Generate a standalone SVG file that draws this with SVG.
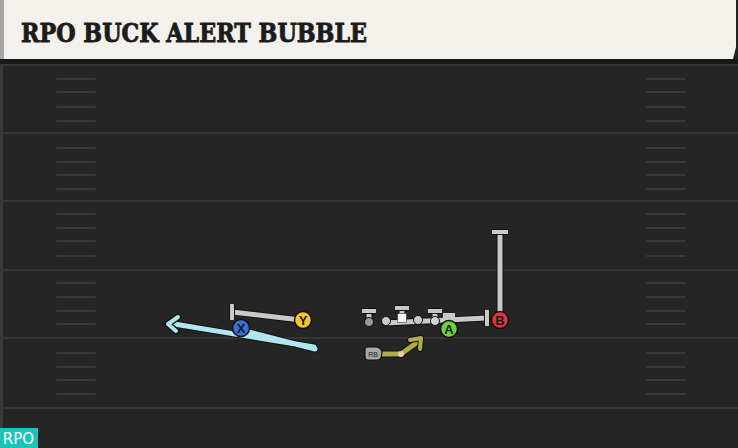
<svg xmlns="http://www.w3.org/2000/svg" width="738" height="448" viewBox="0 0 738 448">
<defs>
<style>
.yl{stroke:#363636;stroke-width:2}
.hm{stroke:#393939;stroke-width:2;stroke-linecap:round}
.rt-o{stroke:#111;stroke-width:7;fill:none;stroke-linecap:round;stroke-linejoin:round}
.rt{stroke:#c9c9c9;stroke-width:5;fill:none;stroke-linecap:butt;stroke-linejoin:round}
.bar{stroke:#c9c9c9;stroke-width:4;fill:none}
.bar-o{stroke:#111;stroke-width:6;fill:none}
.pl{stroke:#111;stroke-width:1.5}
.lt{font-family:"Liberation Sans",Arial,sans-serif;font-size:13px;font-weight:bold;fill:#1a1a1a;text-anchor:middle}
</style>
</defs>
<rect x="0" y="0" width="738" height="448" fill="#222222"/>
<rect x="0" y="59" width="738" height="389" fill="#252525"/>
<rect x="0" y="59" width="738" height="5" fill="#171717"/>
<rect x="0" y="64" width="3" height="384" fill="#3a3a3a"/>
<g id="field">
<line class="yl" x1="0" y1="65" x2="738" y2="65"/>
<line class="yl" x1="0" y1="133" x2="738" y2="133"/>
<line class="yl" x1="0" y1="201" x2="738" y2="201"/>
<line class="yl" x1="0" y1="270" x2="738" y2="270"/>
<line class="yl" x1="0" y1="338" x2="738" y2="338"/>
<line class="yl" x1="0" y1="408" x2="738" y2="408"/>
<g id="hash-left">
<line class="hm" x1="57" y1="79" x2="95" y2="79"/><line class="hm" x1="57" y1="92" x2="95" y2="92"/><line class="hm" x1="57" y1="107" x2="95" y2="107"/><line class="hm" x1="57" y1="121" x2="95" y2="121"/>
<line class="hm" x1="57" y1="148" x2="95" y2="148"/><line class="hm" x1="57" y1="162" x2="95" y2="162"/><line class="hm" x1="57" y1="175" x2="95" y2="175"/><line class="hm" x1="57" y1="189" x2="95" y2="189"/>
<line class="hm" x1="57" y1="214" x2="95" y2="214"/><line class="hm" x1="57" y1="228" x2="95" y2="228"/><line class="hm" x1="57" y1="241" x2="95" y2="241"/><line class="hm" x1="57" y1="256" x2="95" y2="256"/>
<line class="hm" x1="57" y1="283" x2="95" y2="283"/><line class="hm" x1="57" y1="297" x2="95" y2="297"/><line class="hm" x1="57" y1="311" x2="95" y2="311"/><line class="hm" x1="57" y1="324" x2="95" y2="324"/>
<line class="hm" x1="57" y1="353" x2="95" y2="353"/><line class="hm" x1="57" y1="367" x2="95" y2="367"/><line class="hm" x1="57" y1="380" x2="95" y2="380"/><line class="hm" x1="57" y1="394" x2="95" y2="394"/>
</g>
<g id="hash-right">
<line class="hm" x1="647" y1="79" x2="685" y2="79"/><line class="hm" x1="647" y1="92" x2="685" y2="92"/><line class="hm" x1="647" y1="107" x2="685" y2="107"/><line class="hm" x1="647" y1="121" x2="685" y2="121"/>
<line class="hm" x1="647" y1="148" x2="685" y2="148"/><line class="hm" x1="647" y1="162" x2="685" y2="162"/><line class="hm" x1="647" y1="175" x2="685" y2="175"/><line class="hm" x1="647" y1="189" x2="685" y2="189"/>
<line class="hm" x1="647" y1="214" x2="685" y2="214"/><line class="hm" x1="647" y1="228" x2="685" y2="228"/><line class="hm" x1="647" y1="241" x2="685" y2="241"/><line class="hm" x1="647" y1="256" x2="685" y2="256"/>
<line class="hm" x1="647" y1="283" x2="685" y2="283"/><line class="hm" x1="647" y1="297" x2="685" y2="297"/><line class="hm" x1="647" y1="311" x2="685" y2="311"/><line class="hm" x1="647" y1="324" x2="685" y2="324"/>
<line class="hm" x1="647" y1="353" x2="685" y2="353"/><line class="hm" x1="647" y1="367" x2="685" y2="367"/><line class="hm" x1="647" y1="380" x2="685" y2="380"/><line class="hm" x1="647" y1="394" x2="685" y2="394"/>
</g>
</g>
<g id="title">
<polygon points="0,0 736,0 736,47 733,59 0,59" fill="#f4f1ec"/>
<rect x="0" y="0" width="4" height="59" fill="#a5a5a5"/>
<text x="21" y="42" font-family="'DejaVu Serif','Liberation Serif',serif" font-weight="bold" font-size="26" textLength="346" lengthAdjust="spacingAndGlyphs" fill="#1c1c1c" stroke="#1c1c1c" stroke-width="0.9">RPO BUCK ALERT BUBBLE</text>
</g>
<g id="connectors">
<line class="rt-o" x1="301" y1="320" x2="232" y2="312"/>
<line class="rt" x1="301" y1="320" x2="232" y2="312"/>
<line class="bar-o" x1="232" y1="304" x2="232" y2="320"/>
<line class="bar" x1="232" y1="304" x2="232" y2="320"/>
<line class="rt-o" x1="500" y1="318" x2="500" y2="232"/>
<line class="rt" x1="500" y1="318" x2="500" y2="232"/>
<line class="bar-o" x1="492" y1="232" x2="508" y2="232"/>
<line class="bar" x1="492" y1="232" x2="508" y2="232"/>
<line class="rt-o" x1="369" y1="322" x2="369" y2="311"/><line class="rt" x1="369" y1="322" x2="369" y2="311"/>
<line class="bar-o" x1="362" y1="311" x2="376" y2="311"/><line class="bar" x1="362" y1="311" x2="376" y2="311"/>
<line class="rt-o" x1="402" y1="318" x2="402" y2="308"/><line class="rt" x1="402" y1="318" x2="402" y2="308"/>
<line class="bar-o" x1="395" y1="308" x2="409" y2="308"/><line class="bar" x1="395" y1="308" x2="409" y2="308"/>
<line class="rt-o" x1="435" y1="321" x2="435" y2="311"/><line class="rt" x1="435" y1="321" x2="435" y2="311"/>
<line class="bar-o" x1="428" y1="311" x2="442" y2="311"/><line class="bar" x1="428" y1="311" x2="442" y2="311"/>
<line class="rt-o" x1="385" y1="323" x2="487" y2="318"/>
<line class="rt" x1="385" y1="323" x2="487" y2="318"/>
<line class="bar-o" x1="487" y1="310" x2="487" y2="326"/>
<line class="bar" x1="487" y1="310" x2="487" y2="326"/>
<rect x="443" y="313" width="12" height="6" fill="#c9c9c9"/>
<path d="M241,330 L315,349 M314,347 L174,324" stroke="#111" stroke-width="7" fill="none" stroke-linecap="round"/>
<path d="M241,330 L315,349 M314,347 L174,324" stroke="#aee6f2" stroke-width="5" fill="none" stroke-linecap="round"/>
<path d="M178,317 L168,324 L176,331" stroke="#111" stroke-width="6.5" fill="none" stroke-linecap="round" stroke-linejoin="round"/>
<path d="M178,317 L168,324 L176,331" stroke="#aee6f2" stroke-width="4" fill="none" stroke-linecap="round" stroke-linejoin="round"/>
<path d="M381,354 L401,354 L419,341" stroke="#111" stroke-width="7" fill="none" stroke-linejoin="round"/>
<path d="M381,354 L401,354 L419,341" stroke="#b3ab4a" stroke-width="5" fill="none" stroke-linejoin="round"/>
<path d="M410,340 L421,338 L420,349" stroke="#111" stroke-width="6" fill="none" stroke-linejoin="round" stroke-linecap="round"/>
<path d="M410,340 L421,338 L420,349" stroke="#b3ab4a" stroke-width="4" fill="none" stroke-linejoin="round" stroke-linecap="round"/>
<circle cx="401" cy="354" r="3" fill="#d8d4a8"/>
</g>
<g id="ol">
<circle cx="369" cy="322" r="4.5" fill="#9a9a9a" stroke="#111" stroke-width="1"/>
<circle cx="386" cy="321" r="4.5" fill="#c9c9c9" stroke="#111" stroke-width="1"/>
<rect x="397.5" y="313.5" width="9" height="9" fill="#f4f4f4" stroke="#111" stroke-width="0.5"/>
<circle cx="418" cy="320" r="4.5" fill="#c9c9c9" stroke="#111" stroke-width="1"/>
<circle cx="435" cy="321" r="4.5" fill="#d4d4d4" stroke="#111" stroke-width="1"/>
</g>
<g id="node-y">
<circle class="pl" cx="303" cy="320" r="8.5" fill="#f2c62a"/>
<text class="lt" x="303" y="324.5">Y</text>
</g>
<g id="node-x">
<circle class="pl" cx="241" cy="328" r="8.5" fill="#3c6fd6"/>
<text class="lt" x="241" y="332.5">X</text>
</g>
<g id="node-a">
<circle class="pl" cx="449" cy="329" r="8.5" fill="#6cd23f"/>
<text class="lt" x="449" y="333.5">A</text>
</g>
<g id="node-b">
<circle class="pl" cx="500" cy="320" r="8.5" fill="#e2343f"/>
<text class="lt" x="500" y="324.5">B</text>
</g>
<g id="node-rb">
<path d="M365,349 Q365,347 368,347 L377,347 Q381,348 382,352 L381,358 Q380,360 377,360 L368,360 Q365,360 365,357 Z" fill="#a8a8a8" stroke="#111" stroke-width="1.2"/>
<text x="373" y="357" font-family="'Liberation Sans',Arial,sans-serif" font-size="7" fill="#1a1a1a" text-anchor="middle">RB</text>
</g>
<g id="tag-rpo">
<rect x="0" y="428" width="38" height="20" fill="#1dc4b9"/>
<text x="18.5" y="444" font-family="'DejaVu Sans',Roboto,sans-serif" font-size="15" fill="#ffffff" text-anchor="middle">RPO</text>
</g>
</svg>
